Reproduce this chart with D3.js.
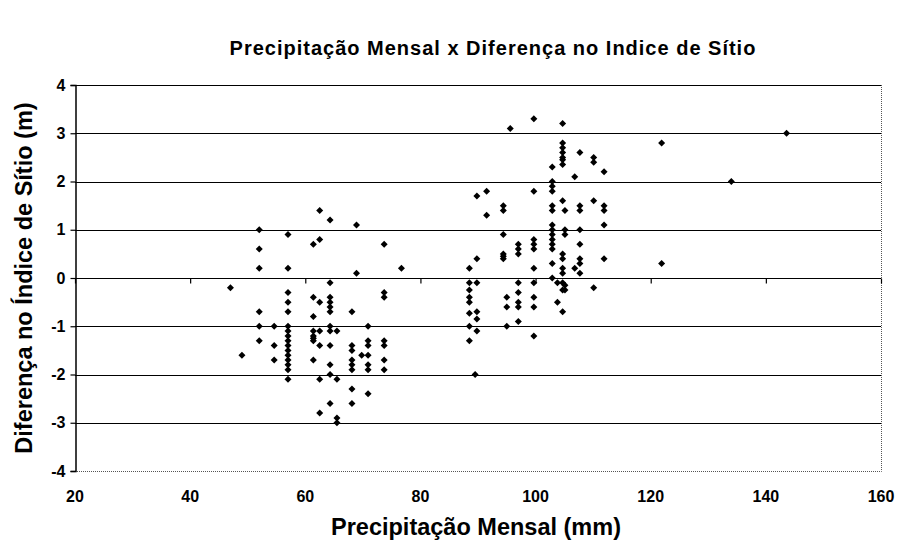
<!DOCTYPE html>
<html>
<head>
<meta charset="utf-8">
<script src="https://cdn.jsdelivr.net/npm/d3@7"></script>
<style>
  html, body { margin: 0; padding: 0; background: #fff; }
  svg { display: block; font-family: "Liberation Sans", Arial, sans-serif; }
</style>
</head>
<body>
<svg id="chart" width="898" height="543"></svg>
<script>
// Monthly precipitation (mm) for each group of observations
const precipitacao = [
  47, 49, 52, 54.6, 57, 61.4, 62.5, 64.3, 65.5, 68.1, 68.9, 69.8, 70.9, 73.7, 76.7,
  88.5, 89.5, 89.8, 91.5, 94.4, 95, 95.6, 97, 99.7, 102.9, 103.8, 104.7, 105.1,
  106.8, 107.7, 110.1, 111.9, 121.9, 134, 143.6
];

// Site index differences (m) observed at each precipitation value above
const diferenca = [
  [-0.2],
  [-1.6],
  [1.0, 0.6, 0.2, -0.7, -1.0, -1.3],
  [-1.0, -1.4, -1.7],
  [0.9, 0.2, -0.3, -0.5, -0.7, -1.0, -1.1, -1.2, -1.3, -1.4, -1.5, -1.6, -1.7, -1.8, -1.9, -2.1],
  [0.7, -0.4, -0.8, -1.1, -1.2, -1.25, -1.3, -1.7],
  [1.4, 0.8, -0.5, -1.1, -1.4, -2.1, -2.8],
  [1.2, -0.1, -0.4, -0.5, -0.6, -0.7, -1.0, -1.1, -1.4, -1.8, -2.0, -2.6],
  [-1.1, -2.1, -2.9, -3.0],
  [-0.7, -1.4, -1.5, -1.7, -1.8, -1.9, -2.3, -2.6],
  [1.1, 0.1],
  [-1.6],
  [-1.0, -1.3, -1.4, -1.6, -1.8, -1.9, -2.4],
  [0.7, -0.3, -0.4, -1.3, -1.4, -1.7, -1.9],
  [0.2],
  [0.2, -0.1, -0.25, -0.4, -0.5, -0.73, -1.0, -1.3],
  [-2.0],
  [1.7, 0.4, -0.1, -0.7, -0.85, -1.1],
  [1.8, 1.3],
  [1.5, 1.4, 0.9, 0.4, 0.45, 0.5],
  [-0.4, -0.6, -1.0],
  [3.1],
  [0.7, 0.6, 0.5, -0.1, -0.3, -0.5, -0.6, -0.9],
  [3.3, 1.8, 0.8, 0.7, 0.6, 0.2, -0.1, -0.4, -0.6, -1.2],
  [2.3, 2.0, 1.9, 1.8, 1.5, 1.4, 1.1, 1.0, 0.9, 0.8, 0.7, 0.6, 0.3, 0.0],
  [-0.1, -0.5],
  [3.2, 2.8, 2.7, 2.6, 2.5, 2.45, 2.35, 1.6, 0.5, 0.4, 0.2, 0.1, -0.1, -0.25, -0.7],
  [1.4, 1.0, 0.9, -0.15, -0.25],
  [2.1, 0.2],
  [2.6, 1.5, 1.4, 1.0, 0.7, 0.4, 0.3, 0.1],
  [2.5, 2.4, 1.6, -0.2],
  [2.2, 1.5, 1.4, 1.1, 0.4],
  [2.8, 0.3],
  [2.0],
  [3.0]
];

const xTicks = [20, 40, 60, 80, 100, 120, 140, 160];
const yTicks = [4, 3, 2, 1, 0, -1, -2, -3, -4];

const titulo = "Precipitação Mensal x Diferença no Indice de Sítio";
const tituloX = "Precipitação Mensal (mm)";
const tituloY = "Diferença no Índice de Sítio (m)";

// Flatten into one point per observation
const pontos = [];
precipitacao.forEach((p, i) => diferenca[i].forEach(d => pontos.push({ p, d })));

const svg = d3.select("#chart");
const plot = { left: 75, right: 881, top: 85, bottom: 471 };

const x = d3.scaleLinear().domain([20, 160]).range([plot.left, plot.right]);
const y = d3.scaleLinear().domain([-4, 4]).range([plot.bottom, plot.top]);

// Horizontal gridlines at each major unit (top one included)
svg.append("g")
  .selectAll("line")
  .data(yTicks.filter(t => t > -4))
  .join("line")
  .attr("x1", plot.left).attr("x2", plot.right)
  .attr("y1", d => Math.round(y(d)) + 0.5).attr("y2", d => Math.round(y(d)) + 0.5)
  .attr("stroke", "#000").attr("stroke-width", 1.2);

// Dotted plot-area border on right and bottom
svg.append("path")
  .attr("d", `M${plot.right + 0.5},${plot.top}V${Math.round(plot.bottom) + 0.5}H${plot.left}`)
  .attr("fill", "none")
  .attr("stroke", "#555").attr("stroke-width", 1)
  .attr("stroke-dasharray", "1,1");

// Y axis (left) with outward ticks; plain hyphen for negatives
const yAxis = d3.axisLeft(y).tickValues(yTicks).tickSize(5).tickPadding(5).tickFormat(d => String(d));
const gy = svg.append("g")
  .attr("transform", `translate(${plot.left + 0.5},0)`)
  .call(yAxis);
gy.select(".domain").attr("stroke", "#000").attr("stroke-width", 1.5);
gy.selectAll(".tick line").attr("stroke", "#000").attr("stroke-width", 1.2);
gy.selectAll(".tick text")
  .attr("font-size", 16).attr("font-weight", "bold").attr("fill", "#000")
  .attr("font-family", "'Liberation Sans', Arial, sans-serif");

// X axis crosses at zero: tick marks there, labels below the plot
const xAxis = d3.axisBottom(x).tickValues(xTicks).tickSize(5).tickFormat(() => "");
const gx = svg.append("g")
  .attr("transform", `translate(0,${Math.round(y(0)) + 0.5})`)
  .call(xAxis);
gx.select(".domain").remove();
gx.selectAll(".tick line").attr("stroke", "#000").attr("stroke-width", 1.2);

svg.append("g")
  .selectAll("text")
  .data(xTicks)
  .join("text")
  .attr("x", d => x(d))
  .attr("y", 502)
  .attr("text-anchor", "middle")
  .attr("font-size", 16).attr("font-weight", "bold")
  .text(d => d);

// Data points as black diamonds
const r = 3.5;
svg.append("g")
  .selectAll("path")
  .data(pontos)
  .join("path")
  .attr("transform", d => `translate(${x(d.p)},${y(d.d)})`)
  .attr("d", `M0,${-r}L${r},0L0,${r}L${-r},0Z`)
  .attr("fill", "#000");

// Titles
svg.append("text")
  .attr("x", 493).attr("y", 55)
  .attr("text-anchor", "middle")
  .attr("font-size", 20).attr("font-weight", "bold")
  .attr("letter-spacing", 1)
  .text(titulo);

svg.append("text")
  .attr("x", 476).attr("y", 535)
  .attr("text-anchor", "middle")
  .attr("font-size", 23.5).attr("font-weight", "bold")
  .text(tituloX);

svg.append("text")
  .attr("transform", `translate(32,${(plot.top + plot.bottom) / 2}) rotate(-90)`)
  .attr("text-anchor", "middle")
  .attr("font-size", 23.5).attr("font-weight", "bold")
  .text(tituloY);
</script>
</body>
</html>
